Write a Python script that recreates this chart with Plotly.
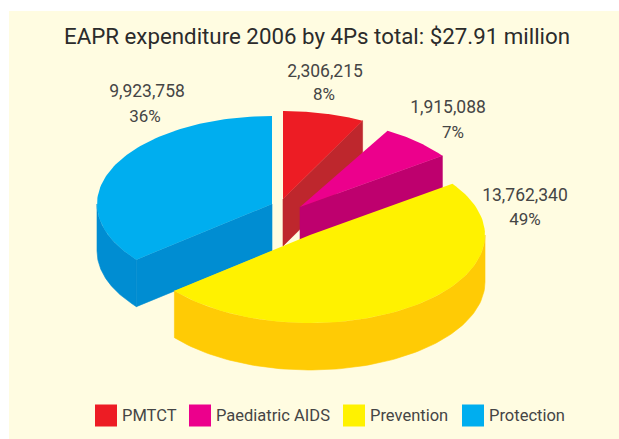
import math
import plotly.graph_objects as go

categories = ["PMTCT", "Paediatric AIDS", "Prevention", "Protection"]
values = [2306215, 1915088, 13762340, 9923758]
title_text = "EAPR expenditure 2006 by 4Ps total: $27.91 million"

top_colors = ["#ED1C24", "#EC008C", "#FFF200", "#00AEEF"]
side_colors = ["#BE272D", "#BE006E", "#FFCB05", "#008DD2"]
PANEL = "#FFFCE1"
TEXT = "#454545"
LABEL_FONT = "Roboto"
TITLE_FONT = "Roboto"

# exploded-pie geometry, in picture pixels
RX, RY, DEPTH = 175, 88, 47
apexes = [(283, 199), (300, 207), (310, 235), (272, 204)]
end_angle_nudge = [-2.7, 0, -1.2, 0]
value_label_pos = [(325, 73), (448, 109), (525, 197), (147, 93)]
pct_label_pos = [(324, 96), (453, 134), (525, 221), (145, 118)]
legend_box_x = [106, 200, 354, 473]
legend_text_x = [122, 216, 370, 489]
LEGEND_Y = 415.5

total = sum(values)
spans = []
a = 0.0
for v, nudge in zip(values, end_angle_nudge):
    b = a + 360.0 * v / total
    spans.append((a if not spans else spans[-1][2], b + nudge, b))
    a = b
spans = [(s, e) for s, e, _ in spans]


def rim(i, a0, a1, drop=0, n=90):
    ax, ay = apexes[i]
    pts = [a0 + (a1 - a0) * k / n for k in range(n + 1)]
    return ([ax + RX * math.sin(math.radians(t)) for t in pts],
            [ay + drop - RY * math.cos(math.radians(t)) for t in pts])


fig = go.Figure()


def poly(xs, ys, color, name, i, lw=0.0):
    fig.add_trace(go.Scatter(
        x=xs + xs[:1], y=ys + ys[:1], mode="lines", fill="toself",
        fillcolor=color, line=dict(width=lw, color=color), showlegend=False,
        name=name, hoverinfo="text",
        text=f"{categories[i]}: {values[i]:,}",
    ))


def wall(i, a0, a1):
    x0, y0 = rim(i, a0, a1)
    x1, y1 = rim(i, a0, a1, DEPTH)
    poly(x0 + x1[::-1], y0 + y1[::-1], side_colors[i], categories[i], i, 0.6)


def cut(i, angle):
    x0, y0 = rim(i, angle, angle, n=1)
    ax, ay = apexes[i]
    ex, ey = x0[0], y0[0]
    poly([ax, ex, ex, ax], [ay, ey, ey + DEPTH, ay + DEPTH],
         side_colors[i], categories[i], i, 0.6)


def top(i):
    s, e = spans[i]
    x, y = rim(i, s, e)
    ax, ay = apexes[i]
    poly([ax] + x, [ay] + y, top_colors[i], categories[i], i)


# painter's order: back to front
blue_start = spans[2][1]
spans[3] = (blue_start, spans[3][1])
wall(3, blue_start, 270)
cut(3, blue_start)
top(3)
cut(0, spans[0][1])
top(0)
cut(1, spans[1][1])
top(1)
wall(2, 90, spans[2][1])
top(2)

# value and percent labels
for i, v in enumerate(values):
    for (x, y), s, size in ((value_label_pos[i], f"{v:,}", 17.5),
                            (pct_label_pos[i], f"{round(100 * v / total)}%", 17)):
        fig.add_trace(go.Scatter(
            x=[x], y=[y], mode="text", text=[s], textposition="middle center",
            textfont=dict(family=LABEL_FONT, size=size, color=TEXT),
            showlegend=False, hoverinfo="skip",
        ))

# legend
for i, c in enumerate(categories):
    fig.add_trace(go.Scatter(
        x=[legend_box_x[i]], y=[LEGEND_Y], mode="markers",
        marker=dict(symbol="square", size=22, color=top_colors[i], line=dict(width=0)),
        showlegend=False, name=c, hoverinfo="name",
    ))
    fig.add_trace(go.Scatter(
        x=[legend_text_x[i]], y=[LEGEND_Y + 1], mode="text", text=[c],
        textposition="middle right",
        textfont=dict(family=LABEL_FONT, size=16.5, color=TEXT),
        showlegend=False, hoverinfo="skip",
    ))

fig.update_layout(
    width=619, height=439,
    margin=dict(l=9, r=0, t=11, b=0),
    paper_bgcolor="white", plot_bgcolor=PANEL,
    showlegend=False,
    title=dict(text=title_text, x=(317 - 9) / 610, y=1 - 36 / 439,
               xanchor="center", yanchor="middle", xref="paper", yref="container",
               font=dict(family=TITLE_FONT, size=22.3, color="#2B2B2B")),
    xaxis=dict(range=[9, 619], visible=False, fixedrange=True),
    yaxis=dict(range=[439, 11], visible=False, fixedrange=True),
)
fig.write_html("out.html", config=dict(displayModeBar=False),
               post_script="document.body.style.margin='0';document.body.style.overflow='hidden';")
